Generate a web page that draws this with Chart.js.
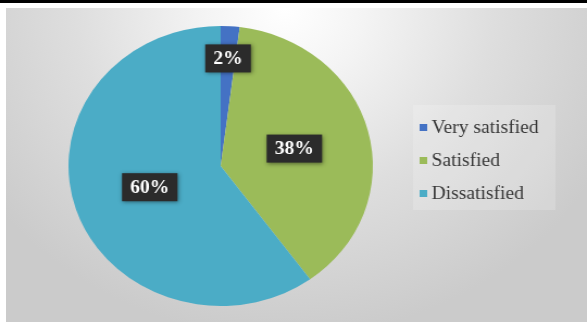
<!DOCTYPE html>
<html>
<head>
<meta charset="utf-8">
<script src="https://cdn.jsdelivr.net/npm/chart.js@4"></script>
<style>
    body { margin: 0; background: #fff; }
    #frame { position: relative; width: 587px; height: 322px; overflow: hidden; }
    #topLine { position: absolute; left: 0; top: 0; width: 587px; height: 3px; background: #000; }
    #panel {
        position: absolute; left: 6px; top: 8px; right: 0; bottom: 0;
        background: radial-gradient(ellipse 62% 105% at 48% 0%, #ffffff 0%, #f4f4f4 22%, #dedede 58%, #cbcbcb 100%);
    }
    /* the source picture is a little wider than tall, so stretch the drawing */
    #stretch { position: absolute; left: 0; top: 0; width: 540px; height: 322px; transform: scaleX(1.087); transform-origin: 0 0; }
</style>
</head>
<body>
<div id="frame">
    <div id="topLine"></div>
    <div id="panel"></div>
    <div id="stretch"><canvas id="satisfactionChart" width="540" height="322"></canvas></div>
</div>
<script>
const categories = ['Very satisfied', 'Satisfied', 'Dissatisfied'];
const satisfactionPct = [2, 38, 60];
const sliceColors = ['#4472C4', '#9BBB59', '#4BACC6'];
// how far out (share of radius) each label box sits
const labelDepth = [0.77, 0.5, 0.49];

const labelBoxes = {
    id: 'labelBoxes',
    afterDatasetsDraw(chart) {
        const ctx = chart.ctx;
        const meta = chart.getDatasetMeta(0);
        const values = chart.data.datasets[0].data;
        meta.data.forEach((arc, i) => {
            const p = arc.getProps(['x', 'y', 'startAngle', 'endAngle', 'outerRadius'], true);
            const mid = (p.startAngle + p.endAngle) / 2;
            const r = p.outerRadius * labelDepth[i];
            const cx = p.x + Math.cos(mid) * r;
            const cy = p.y + Math.sin(mid) * r;
            const text = values[i] + '%';

            ctx.save();
            ctx.font = 'bold 18px "Liberation Serif", serif';
            const w = ctx.measureText(text).width + 15;
            const h = 28;
            ctx.shadowColor = 'rgba(0,0,0,0.45)';
            ctx.shadowBlur = 4;
            ctx.shadowOffsetX = 1;
            ctx.shadowOffsetY = 1;
            ctx.fillStyle = '#2b2b2b';
            ctx.fillRect(cx - w / 2, cy - h / 2, w, h);
            ctx.shadowColor = 'transparent';
            ctx.fillStyle = '#ffffff';
            ctx.textAlign = 'center';
            ctx.textBaseline = 'middle';
            ctx.fillText(text, cx, cy + 1);
            ctx.restore();
        });
    }
};

const sideLegend = {
    id: 'sideLegend',
    afterDraw(chart) {
        const ctx = chart.ctx;
        const colors = chart.data.datasets[0].backgroundColor;
        ctx.save();
        ctx.fillStyle = 'rgba(255,255,255,0.18)';
        ctx.fillRect(380, 105, 131, 105);
        ctx.font = '18px "Liberation Serif", serif';
        ctx.textBaseline = 'middle';
        chart.data.labels.forEach((label, i) => {
            const y = 127 + i * 33;
            ctx.fillStyle = colors[i];
            ctx.fillRect(386, y - 3, 7, 7);
            ctx.fillStyle = '#383838';
            ctx.fillText(label, 397, y + 1);
        });
        ctx.restore();
    }
};

new Chart(document.getElementById('satisfactionChart'), {
    type: 'pie',
    data: {
        labels: categories,
        datasets: [{
            data: satisfactionPct,
            backgroundColor: sliceColors,
            borderWidth: 0
        }]
    },
    options: {
        responsive: false,
        animation: false,
        layout: { padding: { top: 26, bottom: 16, left: 63, right: 197 } },
        plugins: {
            legend: { display: false },
            tooltip: { enabled: false }
        }
    },
    plugins: [labelBoxes, sideLegend]
});
</script>
</body>
</html>
